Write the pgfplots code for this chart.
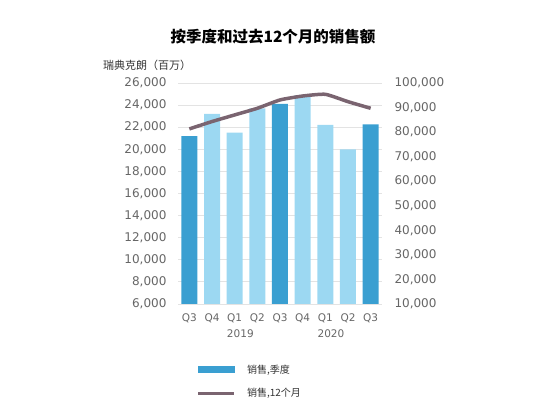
\documentclass[border=0pt]{standalone}
\usepackage{pgfplots}
\pgfplotsset{compat=1.18}
\usepackage{fontspec}
\setmainfont{DejaVu Sans}
\newfontfamily\cjk{Noto Sans CJK SC}

\definecolor{barDark}{HTML}{3A9FD1}
\definecolor{barLight}{HTML}{9CD8F2}
\definecolor{lineCol}{HTML}{7A6470}
\definecolor{tickGray}{HTML}{666666}
\definecolor{gridGray}{HTML}{E3E3E3}

\pgfplotstableread{
x  y
0  21200
4  24100
8  22250
}\quarterdark
\pgfplotstableread{
x  y
1  23200
2  21500
3  23700
5  24900
6  22200
7  20000
}\quarterlight
\pgfplotstableread{
x  y
0  81300
1  84300
2  87000
3  89700
4  93100
5  94700
6  95400
7  92400
8  89700
}\rolling

\begin{document}
\begin{tikzpicture}
\useasboundingbox (0,0) rectangle (549pt,411pt);

\node[font=\cjk\bfseries\fontsize{15.5}{18}\selectfont] at (273pt,374pt) {按季度和过去12个月的销售额};
\node[font=\cjk\fontsize{11}{13}\selectfont, text=black!80] at (147pt,346pt) {瑞典克朗（百万）};

\pgfplotsset{
  common/.style={
    scale only axis, width=204pt, height=221pt,
    at={(178pt,107pt)}, anchor=south west,
    xmin=-0.5, xmax=8.5,
    clip=false, scaled ticks=false,
    tick style={draw=none},
    ticklabel style={text=tickGray},
    yticklabel style={font=\fontsize{12}{14}\selectfont},
    /pgf/number format/fixed,
    /pgf/number format/1000 sep={,},
    /pgf/number format/assume math mode=true,
  }
}

\begin{axis}[common,
  ymin=6000, ymax=26000, ytick distance=2000,
  ymajorgrids, grid style={gridGray, line width=0.8pt},
  axis x line*=bottom, axis y line*=left,
  x axis line style={gridGray, line width=0.8pt, -},
  y axis line style={draw=none},
  yticklabel style={xshift=-8pt},
  xtick={0,...,8},
  xticklabels={Q3,Q4,Q1,Q2,Q3,Q4,Q1,Q2,Q3},
  xticklabel style={font=\fontsize{10.5}{12}\selectfont, yshift=-6pt},
  legend style={at={(0.075,-0.255)}, anchor=north west, draw=none,
    font=\cjk\fontsize{10}{12}\selectfont, text=black!80,
    row sep=10pt, column sep=9pt, cells={anchor=west}},
]
\addplot[ybar, bar width=16pt, bar shift=0pt, fill=barDark, draw=none, forget plot] table {\quarterdark};
\addplot[ybar, bar width=16pt, bar shift=0pt, fill=barLight, draw=none, forget plot] table {\quarterlight};
\addlegendimage{legend image code/.code={\fill[barDark] (0pt,-3pt) rectangle (36pt,3pt);}}
\addlegendentry{销售,季度}
\addlegendimage{legend image code/.code={\draw[lineCol, line width=3.5pt] (0pt,0pt) -- (36pt,0pt);}}
\addlegendentry{销售,12个月}
\node[font=\fontsize{10.5}{12}\selectfont, text=tickGray] at (axis cs:2.25,6000) [yshift=-30pt] {2019};
\node[font=\fontsize{10.5}{12}\selectfont, text=tickGray] at (axis cs:6.25,6000) [yshift=-30pt] {2020};
\end{axis}

\begin{axis}[common,
  ymin=10000, ymax=100000, ytick distance=10000,
  axis y line*=right, axis x line=none,
  y axis line style={draw=none},
  yticklabel style={xshift=9pt},
]
\addplot[lineCol, line width=3.5pt, smooth, tension=0.3] table {\rolling};
\end{axis}
\end{tikzpicture}
\end{document}
